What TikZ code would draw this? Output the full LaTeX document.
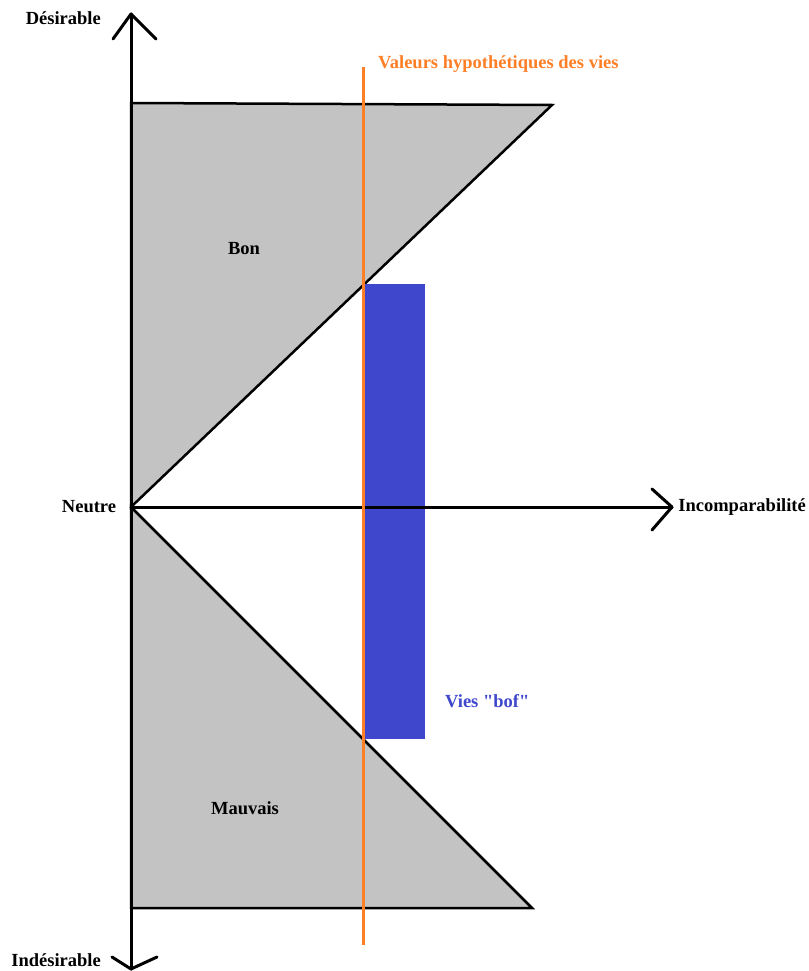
\documentclass[tikz,border=0pt]{standalone}
\usepackage{fontspec}
\setmainfont{Liberation Serif}[Ligatures=TeXOff]
\definecolor{paintgray}{HTML}{C3C3C3}
\definecolor{paintorange}{HTML}{FF7F27}
\definecolor{paintblue}{HTML}{3F48CC}
\begin{document}
\begin{tikzpicture}[x=1pt,y=-1pt,
  lbl/.style={font=\bfseries\fontsize{18.5}{21}\selectfont, inner sep=0pt},
  axisline/.style={line width=3pt, line cap=round, line join=round},
  region/.style={fill=paintgray, draw=black, line width=2.5pt, line join=miter},
  vieline/.style={draw=paintorange, line width=3pt}]
\useasboundingbox (0,0) rectangle (808,971);
% key points
\coordinate (O) at (131,507);
\coordinate (topL) at (131,103);
\coordinate (topR) at (552,105);
\coordinate (botL) at (131,908);
\coordinate (botR) at (532,908);
\coordinate (ytop) at (131,14);
\coordinate (ybot) at (131,969);
\coordinate (xend) at (672,507);
\coordinate (vtop) at (363,67);
\coordinate (vbot) at (363,945);
% regions
\path[region] (O) -- (topL) -- (topR) -- cycle;
\path[region] (O) -- (botR) -- (botL) -- cycle;
% blue block
\node[fill=paintblue, draw=none, minimum width=62pt, minimum height=455pt, inner sep=0pt, anchor=north west] (bof) at (363,284) {};
% axes
\draw[axisline] (ybot) -- (ytop);
\draw[axisline] (O) -- (xend);
\draw[axisline] (113,39) -- (ytop) -- (156,39);
\draw[axisline] (112,957) -- (ybot) -- (157,957);
\draw[axisline] (652,489) -- (xend) -- (652,530);
% orange line
\draw[vieline] (vtop) -- (vbot);
% labels
\node[lbl, anchor=east] (des) at (101,18) {Désirable};
\node[lbl, anchor=east] (indes) at (101,960) {Indésirable};
\node[lbl] (neutre) at (89,507) {Neutre};
\node[lbl, anchor=east] (incomp) at (806,507) {Incomparabilité};
\node[lbl] (bon) at (244,249) {Bon};
\node[lbl] (mauvais) at (245,808) {Mauvais};
\node[lbl, anchor=west, text=paintblue] (vies) at (445,701) {Vies "bof"};
\node[lbl, anchor=west, text=paintorange] (valeurs) at (378,64) {Valeurs hypothétiques des vies};
\end{tikzpicture}
\end{document}
